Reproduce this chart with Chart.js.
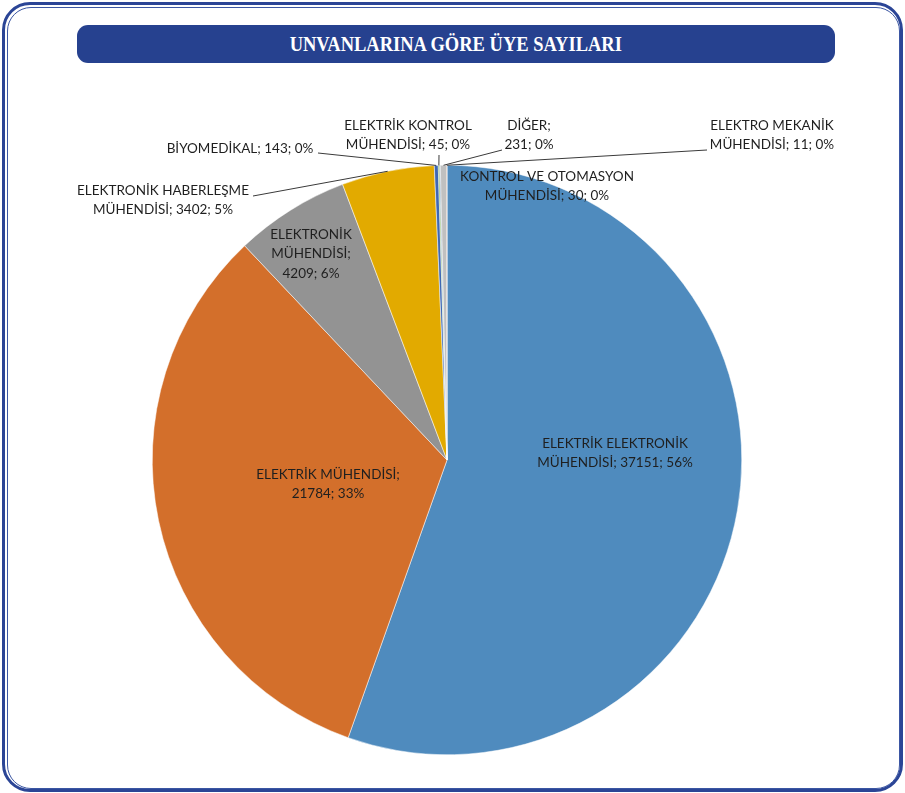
<!DOCTYPE html>
<html><head><meta charset="utf-8">
<script src="https://cdn.jsdelivr.net/npm/chart.js@4/dist/chart.umd.min.js"></script>
<style>
html,body{margin:0;padding:0;background:#fff;}
#wrap{position:relative;width:905px;height:793px;overflow:hidden;}
#frameOuter{position:absolute;left:2px;top:2px;width:895px;height:784px;border:3px solid #2b4596;border-radius:28px;}
#frameInner{position:absolute;left:7px;top:7px;width:891px;height:780px;border:1px solid #3b56a3;border-radius:24px;}
#titleBar{position:absolute;left:77px;top:25px;width:758px;height:38px;background:#26418f;border-radius:11px;display:flex;align-items:center;justify-content:center;}
#titleBar span{color:#fff;font-family:"Liberation Serif",serif;font-weight:bold;font-size:21px;display:inline-block;transform:scaleX(0.88);white-space:nowrap;}
canvas{position:absolute;left:0;top:0;}
</style>
</head><body>
<div id="wrap">
  <div id="frameOuter"></div>
  <div id="frameInner"></div>
  <div id="titleBar"><span>UNVANLARINA GÖRE ÜYE SAYILARI</span></div>
  <canvas id="c" width="905" height="793"></canvas>
</div>
<script>
const categories = ["ELEKTRİK ELEKTRONİK MÜHENDİSİ", "ELEKTRİK MÜHENDİSİ", "ELEKTRONİK MÜHENDİSİ", "ELEKTRONİK HABERLEŞME MÜHENDİSİ", "BİYOMEDİKAL", "ELEKTRİK KONTROL MÜHENDİSİ", "KONTROL VE OTOMASYON MÜHENDİSİ", "DİĞER", "ELEKTRO MEKANİK MÜHENDİSİ"];
const memberCounts = [37151, 21784, 4209, 3402, 143, 45, 30, 231, 11];
const percentLabels = ["56%", "33%", "6%", "5%", "0%", "0%", "0%", "0%", "0%"];
const sliceColors = ["#4f8bbe", "#d36f2b", "#939393", "#e2aa00", "#3f68b3", "#70ad47", "#2a5c8f", "#c0c0c0", "#9e480e"];

// label layout: offset of label centre from pie centre (px), words per line, leader start offset from label centre
const labelLayout = [
  {dx: 168, dy: -7, wrap: [2, 3]},
  {dx: -119, dy: 24, wrap: [2, 2]},
  {dx: -136, dy: -206, wrap: [1, 1, 2]},
  {dx: -284, dy: -260, wrap: [2, 3], leader: [90, -4]},
  {dx: -207, dy: -311, wrap: [3], leader: [78, 4]},
  {dx: -39, dy: -325, wrap: [2, 3], leader: [31, 20]},
  {dx: 100, dy: -274, wrap: [3, 3]},
  {dx: 82, dy: -325, wrap: [1, 2], leader: [-27, 15]},
  {dx: 325, dy: -325, wrap: [2, 3], leader: [-65, 15]}
];

const labelPlugin = {
  id: 'sliceLabels',
  afterDatasetsDraw(chart) {
    const ctx = chart.ctx;
    const meta = chart.getDatasetMeta(0);
    ctx.save();
    ctx.font = '13.5px Lato';
    ctx.textAlign = 'center';
    ctx.textBaseline = 'middle';
    const lineH = 19.5;
    meta.data.forEach((arc, i) => {
      const lay = labelLayout[i];
      const cx = arc.x + lay.dx, cy = arc.y + lay.dy;
      const words = (categories[i] + '; ' + memberCounts[i] + '; ' + percentLabels[i]).split(' ');
      const lines = [];
      let k = 0;
      lay.wrap.forEach(n => { lines.push(words.slice(k, k + n).join(' ')); k += n; });
      if (lay.leader) {
        const mid = (arc.startAngle + arc.endAngle) / 2;
        const ex = arc.x + Math.cos(mid) * arc.outerRadius;
        const ey = arc.y + Math.sin(mid) * arc.outerRadius;
        ctx.strokeStyle = '#3a3a3a';
        ctx.lineWidth = 1;
        ctx.beginPath();
        ctx.moveTo(cx + lay.leader[0], cy + lay.leader[1]);
        ctx.lineTo(ex, ey);
        ctx.stroke();
      }
      ctx.fillStyle = '#1f1f1f';
      const top = cy - (lines.length - 1) * lineH / 2;
      lines.forEach((t, j) => ctx.fillText(t, cx, top + j * lineH));
    });
    ctx.restore();
  }
};

new Chart(document.getElementById('c'), {
  type: 'pie',
  data: {
    labels: categories,
    datasets: [{
      data: memberCounts,
      backgroundColor: sliceColors,
      borderColor: '#ffffff',
      borderWidth: 0.5
    }]
  },
  options: {
    responsive: false,
    animation: false,
    layout: {padding: {top: 165, bottom: 38, left: 152, right: 163}},
    plugins: {legend: {display: false}, tooltip: {enabled: false}, title: {display: false}}
  },
  plugins: [labelPlugin]
});
</script>
</body></html>
